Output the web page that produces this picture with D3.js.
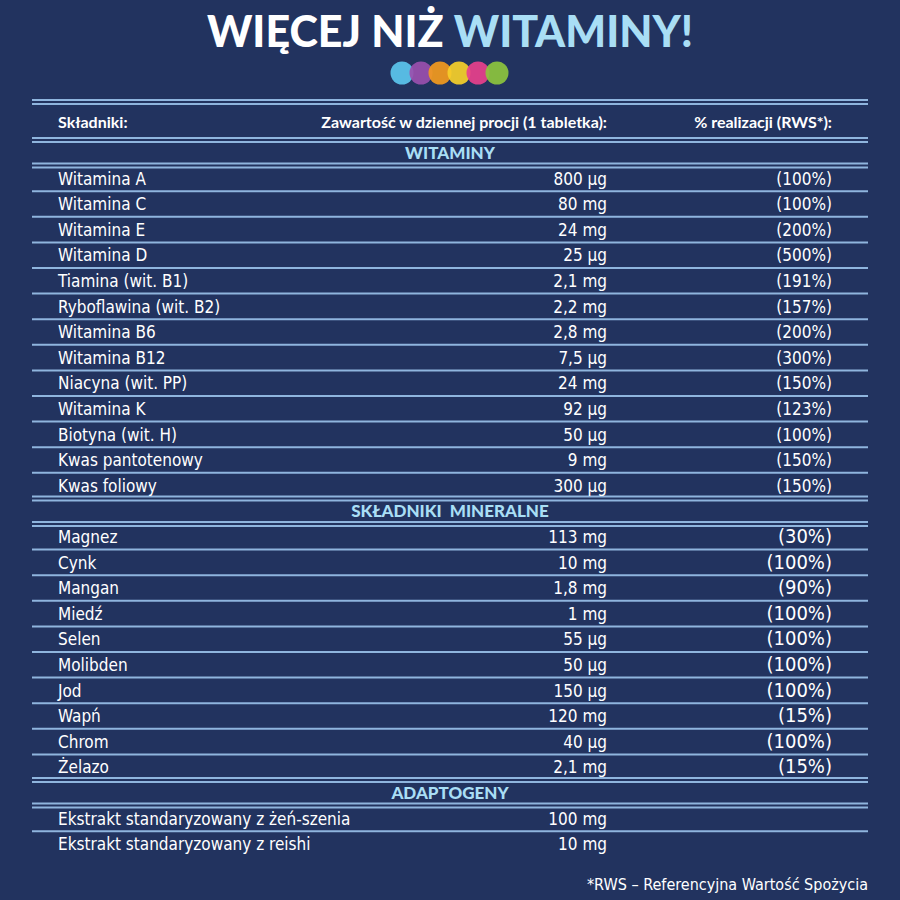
<!DOCTYPE html>
<html><head><meta charset="utf-8">
<script src="https://cdn.jsdelivr.net/npm/d3@7"></script>
<style>body{margin:0;background:#22335f}</style>
</head><body><div id="vis"></div>
<script>
// Dane
const headers = ["Składniki:", "Zawartość w dziennej procji (1 tabletka):", "% realizacji (RWS*):"];
const sections = ["WITAMINY", "SKŁADNIKI  MINERALNE", "ADAPTOGENY"];
const vitNames = ["Witamina A","Witamina C","Witamina E","Witamina D","Tiamina (wit. B1)","Ryboflawina (wit. B2)","Witamina B6","Witamina B12","Niacyna (wit. PP)","Witamina K","Biotyna (wit. H)","Kwas pantotenowy","Kwas foliowy"];
const vitAmounts = ["800 µg","80 mg","24 mg","25 µg","2,1 mg","2,2 mg","2,8 mg","7,5 µg","24 mg","92 µg","50 µg","9 mg","300 µg"];
const vitPct = ["(100%)","(100%)","(200%)","(500%)","(191%)","(157%)","(200%)","(300%)","(150%)","(123%)","(100%)","(150%)","(150%)"];
const minNames = ["Magnez","Cynk","Mangan","Miedź","Selen","Molibden","Jod","Wapń","Chrom","Żelazo"];
const minAmounts = ["113 mg","10 mg","1,8 mg","1 mg","55 µg","50 µg","150 µg","120 mg","40 µg","2,1 mg"];
const minPct = ["(30%)","(100%)","(90%)","(100%)","(100%)","(100%)","(100%)","(15%)","(100%)","(15%)"];
const adaNames = ["Ekstrakt standaryzowany z żeń-szenia","Ekstrakt standaryzowany z reishi"];
const adaAmounts = ["100 mg","10 mg"];
const dotColors = ["#5cc6ee","#9a4fae","#f39a1e","#f6cf2a","#e8408c","#8dc43e"];

const W = 900, H = 900;
const LINE = "#8fb5de", CYAN = "#a9def5", FONT = "'Liberation Sans Narrow','DejaVu Sans Condensed',sans-serif";

// Wiersze
let rows = [];
rows.push({type:"section", text:sections[0]});
vitNames.forEach((n,i) => rows.push({type:"row", name:n, amount:vitAmounts[i], pct:vitPct[i], small:true}));
rows.push({type:"section", text:sections[1]});
minNames.forEach((n,i) => rows.push({type:"row", name:n, amount:minAmounts[i], pct:minPct[i], small:false}));
rows.push({type:"section", text:sections[2]});
adaNames.forEach((n,i) => rows.push({type:"row", name:n, amount:adaAmounts[i], pct:"", small:false}));

const y = d3.scaleLinear().domain([0, 1]).range([153, 178.6]);
const x = d3.scaleLinear().domain([0, 1]).range([32, 868]);

const svg = d3.select("#vis").append("svg").attr("width", W).attr("height", H);
svg.append("rect").attr("width", W).attr("height", H).attr("fill", "#22335f");

// Tytul
const title = svg.append("text").attr("x", W/2).attr("y", 47).attr("text-anchor", "middle")
  .style("font-family", "Lato, sans-serif").style("font-weight", 900).style("font-size", "43px");
title.append("tspan").attr("fill", "#fff").text("WIĘCEJ NIŻ ");
title.append("tspan").attr("fill", CYAN).text("WITAMINY!");

const dots = svg.append("g");
dots.selectAll("circle").data(dotColors).enter().append("circle")
  .attr("cx", (d,i) => 402 + i*19).attr("cy", 73).attr("r", 11.5)
  .attr("fill", d => d).attr("opacity", 0.92);

// Linie
function hline(yy){ svg.append("line").attr("x1", x(0)).attr("x2", x(1)).attr("y1", yy).attr("y2", yy)
  .attr("stroke", LINE).attr("stroke-width", 2); }
function dline(yy){ hline(yy-2); hline(yy+2); }

dline(102);
rows.forEach((r,i) => {
  const top = y(i) - 13;
  const prevSec = i > 0 && rows[i-1].type === "section";
  if (r.type === "section" || prevSec || i === 0) dline(top); else hline(top);
});

// Naglowki
const hy = 128;
[[58,"start"],[607,"end"],[832,"end"]].forEach(([xx, a], i) => {
  svg.append("text").attr("x", xx).attr("y", hy).attr("text-anchor", a)
    .attr("fill", "#fff").style("font-family", "Lato, sans-serif").style("font-weight", 700).style("font-size", "16px")
    .text(headers[i]);
});

// Tresc
rows.forEach((r,i) => {
  const yy = y(i) + 6;
  if (r.type === "section") {
    svg.append("text").attr("x", 450).attr("y", yy).attr("text-anchor", "middle")
      .attr("fill", CYAN).style("font-family", "Lato, sans-serif").style("font-weight", 900).style("font-size", "17px")
      .style("white-space", "pre").text(r.text);
    return;
  }
  const t = (xx, anchor, txt, size) => svg.append("text").attr("x", xx).attr("y", yy).attr("text-anchor", anchor)
    .attr("fill", "#fff").style("font-family", FONT).style("font-size", size).text(txt);
  t(58, "start", r.name, "17px");
  t(607, "end", r.amount, "17px");
  if (r.pct) t(832, "end", r.pct, r.small ? "17px" : "20px");
});

svg.append("text").attr("x", 868).attr("y", 890).attr("text-anchor", "end")
  .attr("fill", "#fff").style("font-family", FONT).style("font-size", "16px")
  .text("*RWS – Referencyjna Wartość Spożycia");
</script></body></html>
